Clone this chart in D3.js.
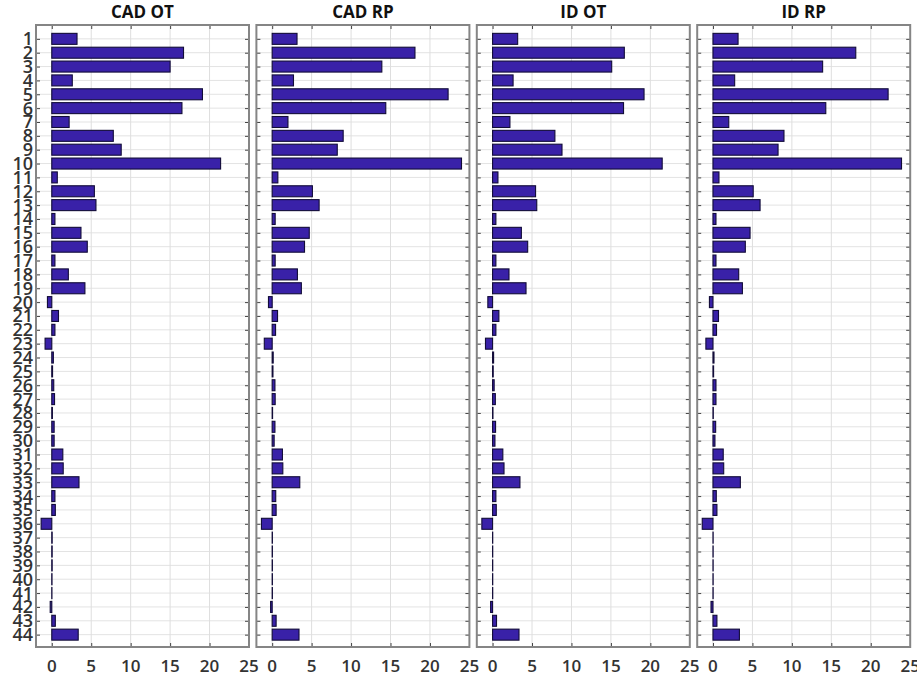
<!DOCTYPE html>
<html>
<head>
<meta charset="utf-8">
<script src="https://cdn.jsdelivr.net/npm/d3@7"></script>
<style>
  body { margin: 0; background: #fff; }
  svg { display: block; }
</style>
</head>
<body>
<div id="chart"></div>
<script>
// categories 1..44
const categories = [1,2,3,4,5,6,7,8,9,10,11,12,13,14,15,16,17,18,19,20,21,22,
  23,24,25,26,27,28,29,30,31,32,33,34,35,36,37,38,39,40,41,42,43,44];

const panelTitles = ["CAD OT", "CAD RP", "ID OT", "ID RP"];

const cadOT = [3.2,16.7,15.0,2.6,19.1,16.5,2.2,7.8,8.8,21.4,0.7,5.4,5.6,0.4,3.7,4.5,0.4,2.1,4.2,-0.55,
  0.85,0.4,-0.85,0.2,0.1,0.25,0.35,0.08,0.3,0.3,1.4,1.45,3.45,0.4,0.45,-1.35,0.05,0.05,0.05,0.03,0.02,-0.2,0.45,3.35];
const cadRP = [3.15,18.1,13.9,2.7,22.3,14.4,2.0,9.0,8.25,24.0,0.72,5.1,5.95,0.38,4.7,4.1,0.38,3.2,3.7,-0.47,
  0.68,0.43,-1.0,0.13,0.1,0.35,0.38,0.05,0.35,0.25,1.3,1.35,3.5,0.45,0.5,-1.36,0.03,0.03,0.03,0.03,0.03,-0.2,0.5,3.4];
const idOT = [3.18,16.7,15.1,2.6,19.2,16.6,2.2,7.9,8.8,21.5,0.68,5.45,5.6,0.42,3.65,4.45,0.42,2.08,4.24,-0.6,
  0.8,0.42,-0.9,0.13,0.08,0.2,0.35,0.05,0.38,0.3,1.3,1.45,3.47,0.42,0.47,-1.36,0.02,0.02,0.02,0.02,0.02,-0.25,0.5,3.35];
const idRP = [3.18,18.1,13.9,2.75,22.2,14.3,2.0,9.0,8.25,23.9,0.76,5.1,5.97,0.38,4.7,4.1,0.38,3.26,3.73,-0.45,
  0.7,0.45,-0.9,0.13,0.08,0.38,0.38,0.04,0.34,0.25,1.3,1.36,3.47,0.42,0.5,-1.36,0.02,0.02,0.02,0.02,0.02,-0.25,0.5,3.35];

const series = [cadOT, cadRP, idOT, idRP];
const xTicks = [0, 5, 10, 15, 20, 25];
const xDomain = [-2, 25];

const width = 917;
const height = 684;
const plotTop = 25, plotBottom = 647;
const panelLeft = 36, panelW = 213, panelStep = 220.4;

const svg = d3.select("#chart")
  .append("svg")
  .attr("width", width)
  .attr("height", height);

const y = d3.scaleLinear()
  .domain([0, 45])
  .range([plotTop, plotBottom + 1.5]);

const barH = 11;

series.forEach((vals, i) => {
  const x0 = panelLeft + i * panelStep;
  const x = d3.scaleLinear().domain(xDomain).range([x0, x0 + panelW]);
  const g = svg.append("g");

  // grid
  g.selectAll(".hgrid")
    .data(categories)
    .enter().append("line")
    .attr("x1", x0).attr("x2", x0 + panelW)
    .attr("y1", d => y(d)).attr("y2", d => y(d))
    .attr("stroke", "#e3e3e3").attr("stroke-width", 1);

  g.selectAll(".vgrid")
    .data(xTicks.slice(0, -1))
    .enter().append("line")
    .attr("x1", d => x(d)).attr("x2", d => x(d))
    .attr("y1", plotTop).attr("y2", plotBottom)
    .attr("stroke", "#dedede").attr("stroke-width", 1);

  // bars
  g.selectAll("rect.bar")
    .data(categories.map((c, j) => ({ c, v: vals[j] })))
    .enter().append("rect")
    .attr("class", "bar")
    .attr("x", d => x(Math.min(0, d.v)))
    .attr("width", d => Math.abs(x(d.v) - x(0)))
    .attr("y", d => y(d.c) - barH / 2)
    .attr("height", barH)
    .attr("fill", "#3921a8")
    .attr("stroke", "#120c38")
    .attr("stroke-width", 1.1);

  // ticks on left/right (inward)
  const yAxisL = d3.axisRight(y).tickValues(categories).tickSize(4).tickFormat("");
  const yAxisR = d3.axisLeft(y).tickValues(categories).tickSize(4).tickFormat("");
  g.append("g").attr("transform", `translate(${x0},0)`).call(yAxisL);
  g.append("g").attr("transform", `translate(${x0 + panelW},0)`).call(yAxisR);

  const xAxisB = d3.axisTop(x).tickValues(xTicks.slice(0, -1)).tickSize(4).tickFormat("");
  const xAxisT = d3.axisBottom(x).tickValues(xTicks.slice(0, -1)).tickSize(4).tickFormat("");
  g.append("g").attr("transform", `translate(0,${plotBottom})`).call(xAxisB);
  g.append("g").attr("transform", `translate(0,${plotTop})`).call(xAxisT);

  g.selectAll(".domain").remove();
  g.selectAll(".tick line").attr("stroke", "#444").attr("stroke-width", 1);

  // frame
  g.append("rect")
    .attr("x", x0).attr("y", plotTop)
    .attr("width", panelW).attr("height", plotBottom - plotTop)
    .attr("fill", "none")
    .attr("stroke", "#858585")
    .attr("stroke-width", 2);

  // x tick labels
  g.selectAll(".xlab")
    .data(xTicks)
    .enter().append("text")
    .attr("x", d => x(d))
    .attr("y", 672)
    .attr("text-anchor", "middle")
    .attr("fill", "#333")
    .style("font-family", "Open Sans")
    .style("font-weight", "600")
    .style("font-size", "17px")
    .text(d => d);

  // title
  g.append("text")
    .attr("x", x0 + panelW / 2)
    .attr("y", 18)
    .attr("text-anchor", "middle")
    .attr("fill", "#111")
    .style("font-family", "Open Sans")
    .style("font-weight", "bold")
    .style("font-size", "17px")
    .text(panelTitles[i]);

  // y labels only on the first panel (they crowd each other, as in the source)
  if (i === 0) {
    g.selectAll(".ylab")
      .data(categories)
      .enter().append("text")
      .attr("x", 33)
      .attr("y", d => y(d))
      .attr("dy", "0.36em")
      .attr("text-anchor", "end")
      .attr("fill", "#333")
      .style("font-family", "Open Sans")
      .style("font-weight", "600")
      .style("font-size", "18px")
      .text(d => d);
  }
});
</script>
</body>
</html>
